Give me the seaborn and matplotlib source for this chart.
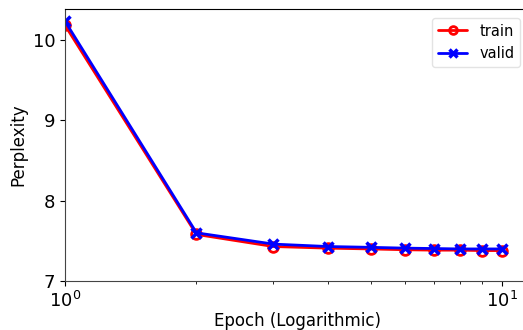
import numpy as np
import pandas as pd
import seaborn as sns
import matplotlib.pyplot as plt

epochs = [1, 2, 3, 4, 5, 6, 7, 8, 9, 10]
train_ppl = [10.18, 7.58, 7.43, 7.41, 7.40, 7.39, 7.385, 7.385, 7.38, 7.38]
valid_ppl = [10.23, 7.60, 7.46, 7.43, 7.42, 7.41, 7.405, 7.40, 7.40, 7.40]

df = pd.DataFrame({"epoch": epochs, "train": train_ppl, "valid": valid_ppl})

sns.set_style("ticks", {"text.color": "black", "axes.labelcolor": "black",
                        "xtick.color": "black", "ytick.color": "black"})
plt.rcParams["font.family"] = ["DejaVu Sans"]

fig = plt.figure(figsize=(5.23, 3.3), dpi=100)
ax = fig.add_axes([0.124, 0.148, 0.89, 0.825])

sns.lineplot(data=df, x="epoch", y="train", ax=ax, color="red", marker="o",
             markersize=7, markerfacecolor="none", markeredgecolor="red",
             markeredgewidth=2, linewidth=2, label="train")
sns.lineplot(data=df, x="epoch", y="valid", ax=ax, color="blue", marker="x",
             markersize=7, markeredgecolor="blue", markeredgewidth=2.5,
             linewidth=2, label="valid")

ax.set_xscale("log")
ax.set_xlim(1, 11.6)
ax.set_ylim(7, 10.38)
ax.set_yticks([7, 8, 9, 10])
ax.set_xlabel("Epoch (Logarithmic)", fontsize=12, labelpad=1)
ax.set_ylabel("Perplexity", fontsize=12)
ax.tick_params(axis="both", labelsize=13, colors="black")
for s in ax.spines.values():
    s.set_color("#444444")
ax.spines["top"].set_color("black")
ax.spines["right"].set_visible(False)

leg = ax.legend(loc="upper right", bbox_to_anchor=(1.0, 0.955),
                bbox_transform=fig.transFigure, fontsize=10.5, handlelength=2,
                borderaxespad=0.2, markerscale=0.8)
leg.get_frame().set_edgecolor("#dddddd")

fig.savefig("out.png", dpi=100)
